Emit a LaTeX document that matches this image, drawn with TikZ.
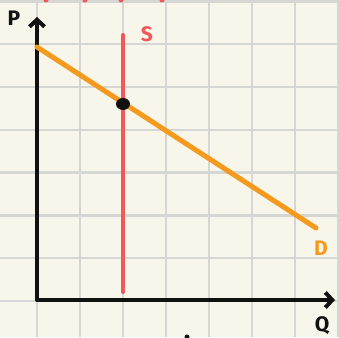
\documentclass[tikz,border=0pt]{standalone}
\usepackage{fontspec}
\setsansfont{Fira Sans}
\usepackage{xcolor}
\usetikzlibrary{arrows.meta,positioning}
\definecolor{paper}{HTML}{F8F6EA}
\definecolor{gridline}{HTML}{D6D6D4}
\definecolor{supply}{HTML}{F2575A}
\definecolor{demand}{HTML}{F59A1E}
\definecolor{ink}{HTML}{111111}
\tikzset{
  lbl/.style={font=\sffamily\bfseries\fontsize{21}{21}\selectfont,inner sep=0pt},
  axis/.style={ink,line width=4pt,line cap=round,line join=round},
}

\begin{document}
\begin{tikzpicture}[x=1pt,y=1pt]
  \fill[paper] (0,0) rectangle (339,337);
  \useasboundingbox (0,0) rectangle (339,337);
  % grid
  \foreach \k in {0,...,7}
    {\draw[gridline,line width=2.4pt] (37+43*\k,0) -- (37+43*\k,337);
     \draw[gridline,line width=2.4pt] (0,36+42.8*\k) -- (339,36+42.8*\k);}
  % cut-off marks at the edges
  \foreach \x in {46,85,121,162}
    {\fill[supply] (\x,337) circle (2.5pt);}
  \fill[ink] (187,0) circle (2.5pt);
  % axes
  \coordinate (origin) at (37,37);
  \coordinate (ptop) at (37,320);
  \coordinate (qend) at (335,37);
  \draw[axis,{Straight Barb[length=7pt,width=15pt]}-{Straight Barb[length=7pt,width=15pt]}]
     (ptop) -- (origin) -- (qend);
  \node[lbl,ink] (plbl) at (14,319) {P};
  \node[lbl,ink] (qlbl) at (322,11) {Q};
  % supply
  \coordinate (stop) at (123,302);
  \coordinate (sbot) at (123,45);
  \draw[supply,line width=4pt,line cap=round] (sbot) -- (stop);
  \node[lbl,supply] (slbl) at (147,303) {S};
  % demand
  \coordinate (dstart) at (37,290);
  \coordinate (dend) at (316,109);
  \draw[demand,line width=5pt,line cap=round] (dstart) -- (dend);
  \node[lbl,demand] (dlbl) at (321,89) {D};
  % equilibrium
  \fill[ink] (123,233) ellipse (7pt and 6pt);
\end{tikzpicture}
\end{document}
